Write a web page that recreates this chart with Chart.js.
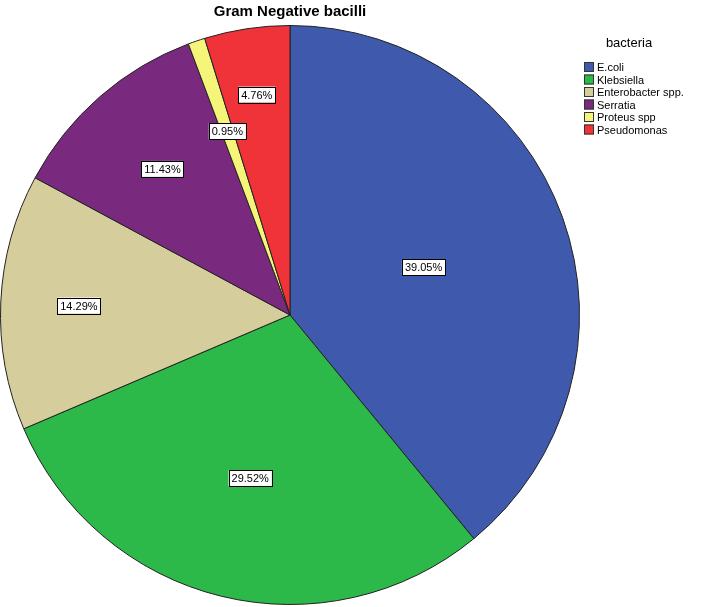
<!DOCTYPE html>
<html><head><script src="https://cdn.jsdelivr.net/npm/chart.js@4"></script>
<style>html,body{margin:0;padding:0;background:#fff}#w{width:708px;height:607px}</style></head>
<body><div id="w"><canvas id="c"></canvas></div>
<script>
const categories=["E.coli","Klebsiella","Enterobacter spp.","Serratia","Proteus spp","Pseudomonas"];
const values=[39.05,29.52,14.29,11.43,0.95,4.76];
const colors=["#3f59ad","#2db84a","#d6cd9d","#7a2a7e","#f5f57a","#ef3338"];
const labelFrac=[0.49,0.58,0.73,0.67,0.67,0.77];
const deco={id:'deco',afterDraw(ch){
 const x=ch.ctx;x.save();
 x.fillStyle='#000';x.font='bold 15px Arial';x.textAlign='center';x.textBaseline='middle';
 x.fillText('Gram Negative bacilli',290,12);
 const meta=ch.getDatasetMeta(0);
 x.font='11px Arial';
 meta.data.forEach((a,i)=>{const m=(a.startAngle+a.endAngle)/2;const r=a.outerRadius*labelFrac[i];
  const px=a.x+Math.cos(m)*r,py=a.y+Math.sin(m)*r;const t=values[i].toFixed(2)+'%';
  const w=x.measureText(t).width+6;x.fillStyle='#fff';x.fillRect(px-w/2,py-8,w,16);
  x.strokeStyle='#000';x.lineWidth=1;x.strokeRect(Math.round(px-w/2)+.5,Math.round(py-8)+.5,Math.round(w),16);
  x.fillStyle='#000';x.fillText(t,px,py+1);});
 x.textAlign='center';x.font='13px Arial';x.fillText('bacteria',629,43);
 x.textAlign='left';x.font='11px Arial';
 categories.forEach((c,i)=>{const y=67+i*12.5;x.fillStyle=colors[i];x.fillRect(584,y-5,10,10);
  x.strokeStyle='#333';x.strokeRect(584.5,y-4.5,9,9);x.fillStyle='#000';x.fillText(c,597,y+1);});
 x.restore();}};
new Chart(document.getElementById('c'),{type:'pie',
 data:{labels:categories,datasets:[{data:values,backgroundColor:colors,borderColor:'#222',borderWidth:1}]},
 options:{responsive:true,maintainAspectRatio:false,animation:false,
  layout:{padding:{left:0,right:128,top:25,bottom:2}},
  plugins:{legend:{display:false},tooltip:{enabled:false}}},plugins:[deco]});
</script></body></html>
